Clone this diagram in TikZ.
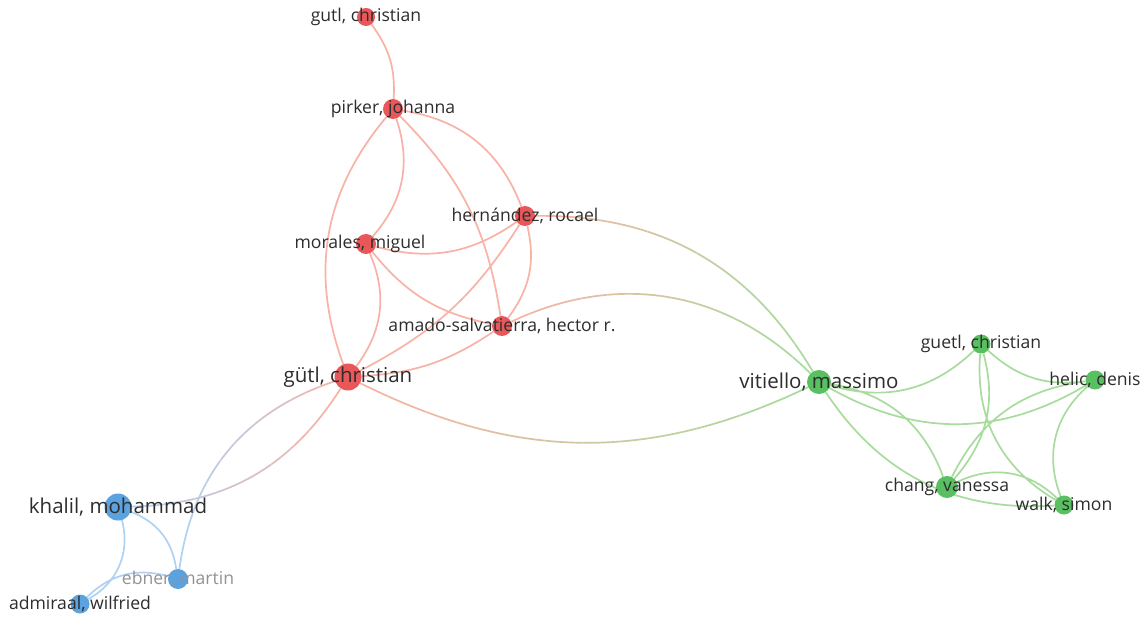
\documentclass[tikz,border=0pt]{standalone}
\usepackage{fontspec}
\setmainfont{Open Sans}
\usetikzlibrary{backgrounds}

\definecolor{rednode}{RGB}{232,88,90}
\definecolor{greennode}{RGB}{88,192,96}
\definecolor{bluenode}{RGB}{92,162,222}
\definecolor{redline}{RGB}{249,178,166}
\definecolor{greenline}{RGB}{168,220,158}
\definecolor{blueline}{RGB}{176,210,242}
\definecolor{labeltext}{RGB}{45,45,45}

\begin{document}
\begin{tikzpicture}[x=1pt, y=1pt,
	pt/.style={circle, inner sep=0pt, minimum size=#1},
	redpt/.style={pt=#1, fill=rednode},
	greenpt/.style={pt=#1, fill=greennode},
	bluept/.style={pt=#1, fill=bluenode},
	lbl/.style={text=labeltext, font=\fontsize{17.6}{19}\selectfont, inner sep=0pt},
	biglbl/.style={lbl, font=\fontsize{20.5}{22}\selectfont},
	edge/.style={line width=1.7pt}
]
\useasboundingbox (0,0) rectangle (1148,-617);

% red cluster
\node[redpt=18] (gutl)     at (366,-17)  {};
\node[redpt=20] (pirker)   at (393,-109) {};
\node[redpt=20] (hernandez) at (525,-216) {};
\node[redpt=20] (morales)  at (366,-244) {};
\node[redpt=20] (amado)    at (502,-326) {};
\node[redpt=27] (guetlR)   at (348,-377) {};
% green cluster
\node[greenpt=24] (vitiello) at (819,-382) {};
\node[greenpt=19] (guetlG)   at (981,-344) {};
\node[greenpt=19] (helic)    at (1095,-380) {};
\node[greenpt=22] (chang)    at (947,-487) {};
\node[greenpt=19] (walk)     at (1064,-505) {};
% blue cluster
\node[bluept=27] (khalil)   at (118,-507) {};
\node[bluept=20] (ebner)    at (178,-579) {};
\node[bluept=19] (admiraal) at (80,-604)  {};

\begin{scope}[on background layer]
\fill[white] (0,0) rectangle (1148,-617);
\draw[edge, redline]
	(gutl)      to [bend left=20]  (pirker)
	(pirker)    to [bend right=30] (guetlR)
	(pirker)    to [bend left=30]  (morales)
	(pirker)    to [bend left=18]  (amado)
	(pirker)    to [bend left=30]  (hernandez)
	(morales)   to [bend right=25] (hernandez)
	(morales)   to [bend right=20] (amado)
	(morales)   to [bend left=30]  (guetlR)
	(hernandez) to [bend left=25]  (amado)
	(hernandez) to [bend left=15]  (guetlR)
	(amado)     to [bend left=15]  (guetlR)
;
% links between clusters, colour fading from one end to the other
\foreach \from/\to/\bnd/\xa/\xb/\ca/\cb in {
	hernandez/vitiello/30/525/819/redline/greenline,
	amado/vitiello/35/502/819/redline/greenline,
	guetlR/vitiello/-26/348/819/redline/greenline,
	guetlR/khalil/28/348/118/redline/blueline,
	guetlR/ebner/-32/348/178/redline/blueline}
{
	\foreach \i in {0,...,11} {
		\pgfmathsetmacro\xl{\xa+(\xb-\xa)*\i/12}
		\pgfmathsetmacro\xr{\xa+(\xb-\xa)*(\i+1)/12}
		\pgfmathtruncatemacro\mix{100-\i*100/11}
		\begin{scope}
			\clip (\xl,0) rectangle (\xr,-617);
			\draw[edge, \ca!\mix!\cb] (\from) to [bend left=\bnd] (\to);
		\end{scope}
	}
}
\draw[edge, blueline]
	(khalil)    to [bend left=30]  (ebner)
	(khalil)    to [bend left=38]  (admiraal)
	(admiraal)  to [bend left=30]  (ebner)
;
\draw[edge, greenline]
	(vitiello)  to [bend right=30] (guetlG)
	(vitiello)  to [bend right=30] (helic)
	(vitiello)  to [bend left=30]  (chang)
	(vitiello)  to [bend right=30] (walk)
	(guetlG)    to [bend right=25] (helic)
	(guetlG)    to [bend left=28]  (chang)
	(guetlG)    to [bend right=32] (walk)
	(helic)     to [bend right=28] (chang)
	(helic)     to [bend right=35] (walk)
	(chang)     to [bend left=35]  (walk)
;
\end{scope}

% labels
\node[lbl] (t-gutl)      at (gutl)      {gutl, christian};
\node[lbl] (t-pirker)    at (pirker)    {pirker, johanna};
\node[lbl] (t-hernandez) at (hernandez) {hernández, rocael};
\node[lbl] (t-morales)   at ([xshift=-6pt]morales) {morales, miguel};
\node[lbl] (t-amado)     at (amado)     {amado-salvatierra, hector r.};
\node[biglbl] (t-guetlR) at (guetlR)    {gütl, christian};
\node[biglbl] (t-vitiello) at (vitiello) {vitiello, massimo};
\node[lbl] (t-guetlG)    at (guetlG)    {guetl, christian};
\node[lbl] (t-helic)     at (helic)     {helic, denis};
\node[lbl] (t-chang)     at (chang)     {chang, vanessa};
\node[lbl] (t-walk)      at (walk)      {walk, simon};
\node[biglbl] (t-khalil) at (khalil)    {khalil, mohammad};
\node[lbl, text=gray!85] (t-ebner) at (ebner) {ebner, martin};
\node[lbl] (t-admiraal)  at (admiraal)  {admiraal, wilfried};
\end{tikzpicture}
\end{document}
